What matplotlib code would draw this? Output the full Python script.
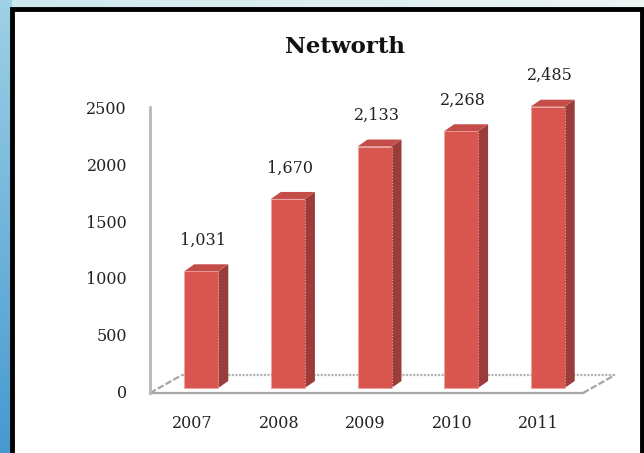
import numpy as np
import matplotlib
matplotlib.use("Agg")
import matplotlib.pyplot as plt
from matplotlib.patches import Rectangle, Polygon
from matplotlib.transforms import ScaledTranslation

# Data
years = ["2007", "2008", "2009", "2010", "2011"]
networth = [1031, 1670, 2133, 2268, 2485]
value_labels = ["1,031", "1,670", "2,133", "2,268", "2,485"]
y_ticks = [0, 500, 1000, 1500, 2000, 2500]

W, H, DPI = 644, 453, 100
fig = plt.figure(figsize=(W / DPI, H / DPI), dpi=DPI)
fig.patch.set_facecolor("white")

# Slide-style backdrop: cyan band on top, blue band on the left
bg = np.ones((H, W, 3))
top = np.linspace([0.80, 0.91, 0.93], [0.93, 0.96, 0.96], W)
bg[:10, :, :] = top[None, :, :]
left = np.linspace([0.62, 0.82, 0.90], [0.27, 0.60, 0.82], H)
bg[:, :12, :] = left[:, None, :]
bga = fig.add_axes([0, 0, 1, 1], zorder=-10)
bga.imshow(bg, aspect="auto", extent=(0, W, H, 0))
bga.set_xlim(0, W)
bga.set_ylim(H, 0)
bga.axis("off")
# white panel with a black frame
bga.add_patch(Rectangle((12, 9), 630, 460, facecolor="white",
                        edgecolor="black", linewidth=3.5))

serif = "DejaVu Serif"

# Plot area in pixels
x0, y0, aw, ah = 150, 60, 433, 283
ax = fig.add_axes([x0 / W, y0 / H, aw / W, ah / H])
ax.set_xlim(-0.5, len(years) - 0.5)
ax.set_ylim(0, 2500)
ax.axis("off")

# pixel -> data unit conversions
ux = (len(years)) / aw
uy = 2500 / ah

def shifted(dx_px, dy_px):
    return ax.transData + ScaledTranslation(dx_px / DPI, dy_px / DPI, fig.dpi_scale_trans)

grey = "#a6a6a6"
# floor of the 3D box
fd_x, fd_y = 32 * ux, 18 * uy
xl, xr = -0.5, len(years) - 0.5
ax.plot([xl, xr], [0, 0], color=grey, lw=1.6, clip_on=False, zorder=1)
ax.plot([xl + fd_x, xr + fd_x], [fd_y, fd_y], color="#b5b5b5", lw=1.6,
        ls=(0, (1, 0.6)), clip_on=False, zorder=1)
ax.plot([xl, xl + fd_x], [0, fd_y], color=grey, lw=1.6, ls=(0, (3, 1)),
        clip_on=False, zorder=1)
ax.plot([xr, xr + fd_x], [0, fd_y], color=grey, lw=1.6, ls=(0, (3, 1)),
        clip_on=False, zorder=1)
# vertical axis line
ax.plot([xl, xl], [0, 2525], color="#b8b8b8", lw=2, clip_on=False, zorder=1)

# bars with depth
front_c, side_c, top_c = "#d9564f", "#9a3c3a", "#c44d47"
bw = 34 * ux
dx, dy = 10 * ux, 7 * uy
tr = shifted(8, 5)
for i, v in enumerate(networth):
    xa, xb = i - bw / 2, i + bw / 2
    ax.add_patch(Polygon([(xb, 0), (xb + dx, dy), (xb + dx, v + dy), (xb, v)],
                         closed=True, facecolor=side_c, edgecolor="none",
                         transform=tr, clip_on=False, zorder=3))
    ax.add_patch(Polygon([(xa, v), (xb, v), (xb + dx, v + dy), (xa + dx, v + dy)],
                         closed=True, facecolor=top_c, edgecolor="none",
                         transform=tr, clip_on=False, zorder=3))
    ax.add_patch(Rectangle((xa, 0), bw, v, facecolor=front_c,
                           edgecolor="#ef9c98", linewidth=0.8, linestyle=":",
                           transform=tr, clip_on=False, zorder=4))
    ax.annotate(value_labels[i], xy=(i, v), xycoords=tr,
                xytext=(2, 31), textcoords="offset pixels",
                ha="center", va="center", fontsize=11.5, family=serif,
                color="#222222", annotation_clip=False)

# tick labels
for t in y_ticks:
    ax.annotate(str(t), xy=(xl, t), xytext=(-23, 0), textcoords="offset pixels",
                ha="right", va="center", fontsize=11.5, family=serif,
                color="#222222", annotation_clip=False)
for i, yr in enumerate(years):
    ax.annotate(yr, xy=(i, 0), xytext=(-1, -30), textcoords="offset pixels",
                ha="center", va="center", fontsize=11.5, family=serif,
                color="#222222", annotation_clip=False)

fig.text(345 / W, 1 - 47 / H, "Networth", ha="center", va="center",
         fontsize=16.5, fontweight="bold", family=serif, color="#111111")

fig.savefig("out.png", dpi=DPI)
